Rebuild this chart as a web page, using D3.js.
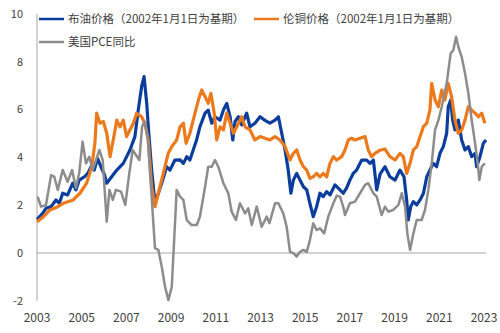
<!DOCTYPE html>
<html><head><meta charset="utf-8">
<script src="https://cdn.jsdelivr.net/npm/d3@7"></script>
<style>body{margin:0;background:#fff}svg{display:block}</style>
</head><body><svg id="c" width="500" height="333"></svg>
<script>
const xTicks = [2003,2005,2007,2009,2011,2013,2015,2017,2019,2021,2023];
const yTicks = [-2,0,2,4,6,8,10];
const seriesNames = ["布油价格（2002年1月1日为基期）","伦铜价格（2002年1月1日为基期）","美国PCE同比"];

const brentT = [2003.00,2003.25,2003.40,2003.63,2003.85,2004.00,2004.15,2004.37,2004.60,2004.74,2004.89,2005.12,2005.27,2005.42,2005.56,2005.71,2005.86,2006.01,2006.12,2006.34,2006.57,2006.86,2007.16,2007.38,2007.53,2007.68,2007.79,2007.91,2007.98,2008.13,2008.28,2008.43,2008.58,2008.80,2008.95,2009.17,2009.40,2009.55,2009.70,2009.84,2009.99,2010.14,2010.29,2010.52,2010.66,2010.82,2010.96,2011.19,2011.34,2011.49,2011.64,2011.76,2011.86,2012.01,2012.16,2012.38,2012.53,2012.75,2012.98,2013.20,2013.42,2013.65,2013.80,2013.95,2014.10,2014.24,2014.36,2014.47,2014.62,2014.77,2014.92,2015.07,2015.21,2015.36,2015.51,2015.66,2015.81,2015.96,2016.11,2016.33,2016.48,2016.70,2016.85,2017.00,2017.15,2017.30,2017.53,2017.75,2017.90,2018.05,2018.20,2018.35,2018.57,2018.79,2019.02,2019.24,2019.42,2019.54,2019.61,2019.72,2019.84,2019.99,2020.14,2020.29,2020.44,2020.58,2020.73,2020.88,2021.03,2021.18,2021.33,2021.40,2021.51,2021.60,2021.70,2021.85,2022.00,2022.15,2022.30,2022.45,2022.60,2022.67,2022.82,2022.97,2023.09];
const brentV = [1.40,1.66,1.87,1.94,2.22,2.08,2.50,2.43,2.92,2.64,3.05,3.19,3.33,3.61,3.47,3.95,3.61,3.30,2.92,3.19,3.47,3.75,4.31,4.87,5.98,6.96,7.38,6.26,5.28,3.47,2.08,2.50,2.92,3.61,3.47,3.89,3.90,3.75,4.03,3.89,4.31,4.73,5.28,5.85,5.98,5.43,5.70,5.56,5.98,6.26,5.70,4.73,5.50,5.70,5.36,5.85,5.28,5.43,5.70,5.55,5.43,5.56,5.70,5.01,4.31,3.47,2.50,3.05,3.33,3.05,2.77,2.64,2.08,1.52,1.94,2.50,2.36,2.57,2.43,2.85,2.71,2.50,2.71,3.05,3.33,3.47,3.89,3.89,3.75,3.89,2.64,3.30,3.61,3.19,3.05,3.47,3.19,2.22,1.38,1.94,2.15,2.01,2.22,2.50,3.19,3.47,3.75,3.61,4.17,4.45,5.01,6.12,6.40,5.56,5.15,5.56,4.73,4.31,4.45,4.03,4.17,3.61,4.03,4.59,4.73];

const copperT = [2003.00,2003.27,2003.58,2003.85,2004.18,2004.62,2004.92,2005.22,2005.45,2005.59,2005.67,2005.82,2005.97,2006.12,2006.27,2006.41,2006.57,2006.71,2006.86,2007.01,2007.16,2007.31,2007.46,2007.68,2007.83,2007.98,2008.13,2008.28,2008.43,2008.65,2008.87,2009.03,2009.25,2009.40,2009.55,2009.67,2009.84,2010.07,2010.22,2010.37,2010.52,2010.66,2010.78,2010.93,2011.04,2011.19,2011.34,2011.49,2011.64,2011.79,2011.94,2012.16,2012.31,2012.53,2012.75,2012.98,2013.20,2013.42,2013.65,2013.87,2014.10,2014.32,2014.47,2014.62,2014.77,2014.92,2015.07,2015.21,2015.36,2015.51,2015.66,2015.81,2015.96,2016.11,2016.26,2016.41,2016.63,2016.78,2016.93,2017.08,2017.23,2017.45,2017.68,2017.82,2017.97,2018.12,2018.35,2018.57,2018.79,2019.02,2019.24,2019.39,2019.54,2019.69,2019.84,2019.99,2020.14,2020.29,2020.44,2020.58,2020.66,2020.81,2020.96,2021.11,2021.25,2021.40,2021.55,2021.70,2021.85,2022.00,2022.15,2022.30,2022.45,2022.60,2022.75,2022.90,2023.04];
const copperV = [1.31,1.50,1.80,1.90,2.08,2.22,2.50,2.92,3.61,4.59,5.85,5.43,5.50,5.01,4.03,4.73,5.56,5.28,5.56,4.87,5.15,5.43,5.85,5.70,5.43,4.73,2.77,1.94,2.50,3.33,4.17,4.45,4.73,5.28,5.43,4.59,5.01,5.85,6.40,6.82,6.54,6.26,6.68,5.85,4.73,5.28,5.15,5.85,5.43,5.01,5.28,5.70,5.28,5.15,4.73,4.87,4.80,4.73,4.87,4.73,4.45,3.89,4.17,4.31,3.89,3.61,3.47,3.12,3.19,3.33,3.19,3.33,3.19,3.75,4.03,3.89,4.03,4.31,4.73,4.80,4.73,4.80,4.87,4.31,4.03,4.17,4.30,4.35,4.03,3.89,4.17,4.03,3.33,3.75,4.31,4.45,4.87,5.29,5.43,5.98,7.10,6.40,6.12,6.82,6.40,7.10,6.54,5.56,5.01,5.15,5.56,6.12,5.98,5.85,5.70,5.85,5.43];

const pceT = [2003.03,2003.18,2003.40,2003.63,2003.77,2003.93,2004.15,2004.37,2004.57,2004.74,2004.89,2005.04,2005.19,2005.34,2005.49,2005.64,2005.79,2005.94,2006.12,2006.24,2006.39,2006.53,2006.76,2006.95,2007.13,2007.28,2007.43,2007.58,2007.70,2007.80,2007.95,2008.10,2008.28,2008.43,2008.58,2008.73,2008.88,2009.03,2009.13,2009.25,2009.40,2009.55,2009.70,2009.92,2010.15,2010.29,2010.52,2010.66,2010.82,2010.96,2011.11,2011.34,2011.56,2011.71,2011.90,2012.08,2012.31,2012.45,2012.61,2012.83,2013.05,2013.28,2013.40,2013.65,2013.80,2014.02,2014.17,2014.32,2014.47,2014.62,2014.77,2014.92,2015.07,2015.21,2015.36,2015.51,2015.66,2015.85,2016.03,2016.26,2016.41,2016.56,2016.70,2016.78,2017.00,2017.23,2017.45,2017.68,2017.82,2018.05,2018.20,2018.42,2018.57,2018.72,2018.94,2019.17,2019.32,2019.47,2019.57,2019.69,2019.84,2019.99,2020.21,2020.36,2020.51,2020.66,2020.81,2020.96,2021.11,2021.33,2021.51,2021.63,2021.75,2021.85,2022.00,2022.15,2022.30,2022.45,2022.60,2022.72,2022.79,2022.90,2023.04];
const pceV = [2.36,1.94,2.00,3.26,3.20,2.64,3.47,2.98,3.47,2.72,3.35,4.66,3.75,4.03,3.47,3.89,4.31,3.89,1.31,2.64,2.22,2.64,2.57,2.01,3.33,4.31,4.10,3.89,5.28,5.49,4.87,2.77,0.20,0.13,-0.57,-1.41,-1.97,-1.41,0.42,2.64,2.36,2.22,1.38,1.17,1.17,1.52,2.77,3.61,3.61,3.89,3.61,2.92,2.50,1.73,1.38,2.08,1.66,1.87,1.17,1.94,1.10,1.52,1.25,2.08,2.08,1.66,1.10,0.05,-0.01,-0.15,0.05,0.13,0.05,0.54,1.24,0.96,1.03,0.82,1.52,2.08,2.40,2.36,1.94,1.59,2.08,2.15,2.50,2.85,2.92,2.50,2.36,1.59,1.94,1.73,1.80,2.01,2.50,1.94,0.82,0.13,0.82,1.38,1.38,1.80,2.64,3.75,5.15,5.56,6.12,7.10,8.36,8.49,9.05,8.63,8.21,7.52,6.68,5.56,4.59,3.75,3.05,3.61,3.75];

const colors = ["#0a3d9c","#ec7a1c","#8c8c8c"];
const font = "'Noto Sans CJK SC','Microsoft YaHei',sans-serif";
const svg = d3.select("#c");
const x = d3.scaleLinear().domain([2003,2023]).range([37,484]);
const y = d3.scaleLinear().domain([-2,10]).range([300.8,14]);

svg.append("line").attr("x1",37).attr("x2",37).attr("y1",y(10)).attr("y2",y(-2))
  .attr("stroke","#a6a6a6").attr("stroke-width",1);
svg.append("line").attr("x1",37).attr("x2",x(2023.1)).attr("y1",y(0)).attr("y2",y(0))
  .attr("stroke","#a6a6a6").attr("stroke-width",1);

svg.append("g").selectAll("text").data(yTicks).join("text")
  .attr("x",23).attr("y",d=>y(d)).attr("dy","0.35em").attr("text-anchor","end")
  .attr("font-family",font).attr("font-size",11).attr("fill","#404040").text(d=>d);
svg.append("g").selectAll("text").data(xTicks).join("text")
  .attr("x",d=>x(d)).attr("y",318).attr("dy","0.35em").attr("text-anchor","middle")
  .attr("font-family",font).attr("font-size",12).attr("fill","#404040").text(d=>d);

const line = d3.line().x(d=>x(d[0])).y(d=>y(d[1])).curve(d3.curveLinear);
const data = [d3.zip(brentT,brentV), d3.zip(copperT,copperV), d3.zip(pceT,pceV)];
data.forEach((d,i)=>{
  svg.append("path").datum(d).attr("d",line).attr("fill","none")
    .attr("stroke",colors[i]).attr("stroke-width",i===2?2.5:3.2).attr("stroke-linejoin","round");
});

const leg = [{x:39,y:19},{x:254,y:19},{x:39,y:42}];
leg.forEach((p,i)=>{
  svg.append("line").attr("x1",p.x).attr("x2",p.x+25).attr("y1",p.y).attr("y2",p.y)
    .attr("stroke",colors[i]).attr("stroke-width",2.5);
  svg.append("text").attr("x",p.x+29).attr("y",p.y).attr("dy","0.35em")
    .attr("font-family",font).attr("font-size",11.5).attr("fill","#404040").text(seriesNames[i]);
});
</script></body></html>
